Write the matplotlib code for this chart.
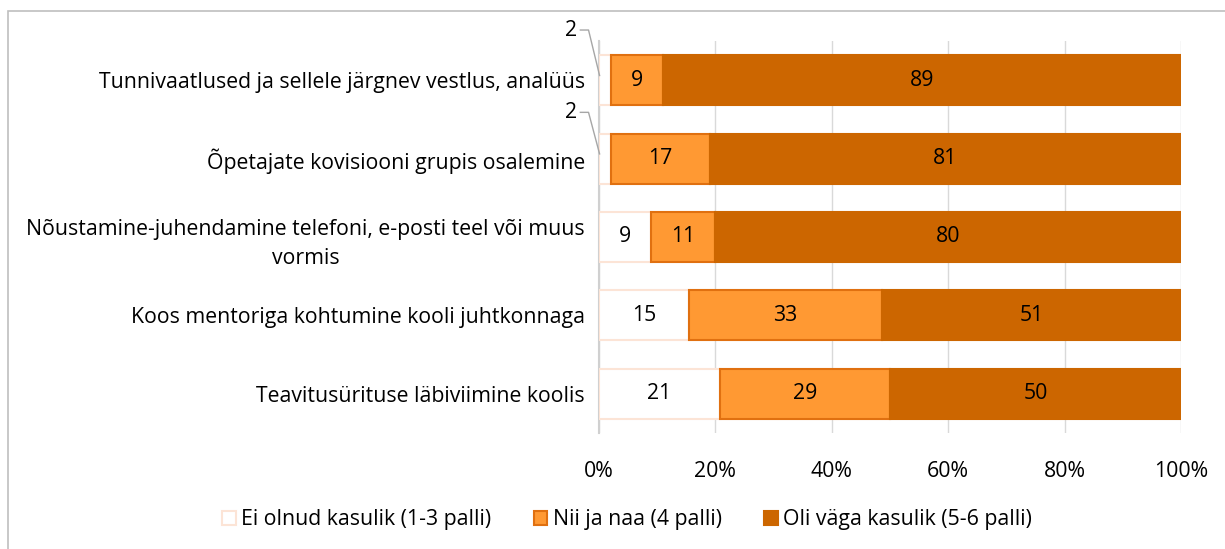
import numpy as np
import matplotlib.pyplot as plt
from matplotlib.patches import Rectangle

# =========================
# Data
# =========================
categories = [
    "Tunnivaatlused ja sellele järgnev vestlus, analüüs",
    "Õpetajate kovisiooni grupis osalemine",
    "Nõustamine-juhendamine telefoni, e-posti teel või muus\nvormis",
    "Koos mentoriga kohtumine kooli juhtkonnaga",
    "Teavitusürituse läbiviimine koolis",
]
series_names = [
    "Ei olnud kasulik (1-3 palli)",
    "Nii ja naa (4 palli)",
    "Oli väga kasulik (5-6 palli)",
]
not_useful = [2, 2, 9, 15.4, 20.8]
so_so = [9, 17, 11, 33.3, 29.2]
very_useful = [89, 81, 80, 51.3, 50.0]
x_ticks = [0, 20, 40, 60, 80, 100]
x_ticklabels = ["0%", "20%", "40%", "60%", "80%", "100%"]

fills = ["#FFFFFF", "#FF9933", "#CC6600"]
edges = ["#FCE4D6", "#E07010", "#CC6600"]

FS = 15.3
plt.rcParams["font.family"] = ["Open Sans", "DejaVu Sans"]

fig = plt.figure(figsize=(12.25, 5.49), dpi=100)
ax = fig.add_axes([599 / 1225, 1 - 433 / 549, 582 / 1225, 392 / 549])

# outer chart border
fig.patches.append(Rectangle((8 / 1225, -0.1), 1.2, 1 - 11 / 549 + 0.1,
                             transform=fig.transFigure, fill=False,
                             edgecolor="#BFBFBF", linewidth=1.2))

y = np.arange(len(categories))
left = np.zeros(len(categories))
for vals, name, fc, ec in zip([not_useful, so_so, very_useful], series_names, fills, edges):
    vals = np.array(vals)
    ax.barh(y, vals, left=left, height=0.64, color=fc, edgecolor=ec,
            linewidth=1.5, label=name, zorder=3)
    for i, (l, v) in enumerate(zip(left, vals)):
        if v >= 5:
            ax.text(l + v / 2, i, f"{v:.0f}", ha="center", va="center",
                    fontsize=FS, color="black", zorder=4)
    left = left + vals

# small "2" labels moved outside with leader lines
for i, dy in [(0, -0.64), (1, -0.59)]:
    ax.text(-3.8, i + dy, f"{not_useful[i]:.0f}", ha="right", va="center",
            fontsize=FS, clip_on=False)
    ax.plot([-3.2, -1.8, 0.1], [i + dy, i + dy, i - 0.06], color="#A6A6A6",
            linewidth=1, clip_on=False, zorder=5)

ax.set_xlim(0, 100)
ax.set_ylim(len(categories) - 0.5, -0.5)
ax.set_yticks(y)
ax.set_yticklabels(categories, fontsize=FS, multialignment="center",
                   linespacing=1.55)
ax.set_xticks(x_ticks)
ax.set_xticklabels(x_ticklabels, fontsize=FS)
ax.tick_params(axis="both", length=0)
ax.tick_params(axis="y", pad=10)
ax.tick_params(axis="x", pad=20)
ax.grid(axis="x", color="#D9D9D9", linewidth=1, zorder=0)
for s in ["top", "right", "bottom"]:
    ax.spines[s].set_visible(False)
ax.spines["left"].set_color("#D0D0D0")
ax.spines["left"].set_linewidth(1.5)

fig.legend(loc="center", bbox_to_anchor=(627 / 1225, 1 - 520 / 549), ncol=3,
           frameon=False, fontsize=FS, handlelength=0.65, handleheight=0.65,
           handletextpad=0.25, columnspacing=2.0)

fig.savefig("out.png", dpi=100)
